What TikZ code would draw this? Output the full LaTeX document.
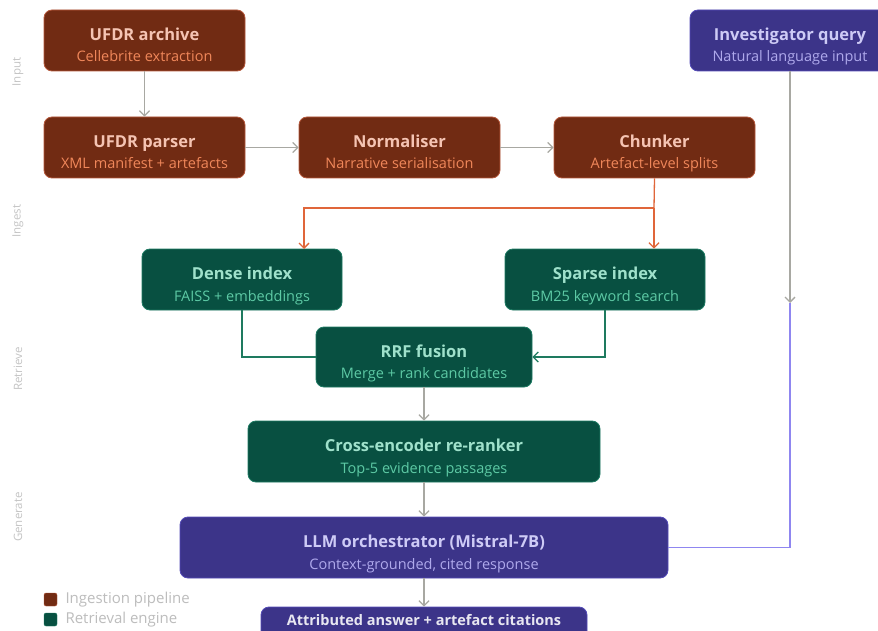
\documentclass[tikz,border=0pt]{standalone}
\usepackage{fontspec}
\setmainfont{Open Sans}
\usetikzlibrary{arrows.meta}
\definecolor{bfill}{HTML}{712B13}
\definecolor{bedge}{HTML}{B5573A}
\definecolor{btitle}{HTML}{F5C4B3}
\definecolor{bsub}{HTML}{F0875A}
\definecolor{gfill}{HTML}{085041}
\definecolor{gedge}{HTML}{1D7A62}
\definecolor{gtitle}{HTML}{9FE1CB}
\definecolor{gsub}{HTML}{5DCAA5}
\definecolor{pfill}{HTML}{3C3489}
\definecolor{pedge}{HTML}{534AB7}
\definecolor{ptitle}{HTML}{CECBF6}
\definecolor{psub}{HTML}{AFA9EC}
\definecolor{gray1}{HTML}{A8A8A2}
\definecolor{orangeline}{HTML}{E0663A}
\definecolor{greenline}{HTML}{1E7A5F}
\definecolor{purpline}{HTML}{8F86F0}
\definecolor{stagec}{HTML}{C4C4C4}
\definecolor{legc}{HTML}{BDBDBD}
\tikzset{
  box/.style={rounded corners=8pt, line width=0.8pt, align=center, inner sep=0pt},
  bbox/.style={box, fill=bfill, draw=bedge, minimum width=201pt, minimum height=61pt},
  gbox/.style={box, fill=gfill, draw=gedge, minimum height=61pt},
  pbox/.style={box, fill=pfill, draw=pedge, minimum height=61pt},
  ttl/.style={anchor=base, inner sep=0pt, font=\fontsize{16.5}{19}\selectfont\bfseries},
  sbt/.style={anchor=base, inner sep=0pt, font=\fontsize{14.5}{17}\selectfont},
  conn/.style={draw=gray1, line width=1.3pt, -{Straight Barb[length=5pt,width=10pt]}},
  oconn/.style={draw=orangeline, line width=1.3pt},
  gconn/.style={draw=greenline, line width=1.3pt},
  stage/.style={rotate=90, text=stagec, font=\fontsize{11.5}{13}\selectfont},
  legtext/.style={text=legc, anchor=west, font=\fontsize{15}{17}\selectfont},
}
% #1 node name, #2 title, #3 subtitle, #4 title colour, #5 sub colour
\newcommand{\boxtexts}[5]{%
  \node[ttl, text=#4] (#1-t) at (#1.center) {#2};
  \node[sbt, text=#5] (#1-s) at ([yshift=-21.5pt]#1.center) {#3};}
\begin{document}
\begin{tikzpicture}[x=1pt,y=-1pt]
\clip (0,0) rectangle (878,631);
\fill[white] (0,0) rectangle (878,631);
% stage labels
\node[stage] (sInput) at (18,72) {Input};
\node[stage] (sIngest) at (18,221) {Ingest};
\node[stage] (sRetrieve) at (18,369) {Retrieve};
\node[stage] (sGenerate) at (18,517) {Generate};
% boxes
\node[bbox] (archive) at (144.5,40.5) {};
\boxtexts{archive}{UFDR archive}{Cellebrite extraction}{btitle}{bsub}
\node[bbox] (parser) at (144.5,147.5) {};
\boxtexts{parser}{UFDR parser}{XML manifest + artefacts}{btitle}{bsub}
\node[bbox] (norm) at (399.5,147.5) {};
\boxtexts{norm}{Normaliser}{Narrative serialisation}{btitle}{bsub}
\node[bbox] (chunk) at (654.5,147.5) {};
\boxtexts{chunk}{Chunker}{Artefact-level splits}{btitle}{bsub}
\node[pbox, minimum width=200pt] (query) at (790,40.5) {};
\boxtexts{query}{Investigator query}{Natural language input}{ptitle}{psub}
\node[gbox, minimum width=200pt] (dense) at (242,279.5) {};
\boxtexts{dense}{Dense index}{FAISS + embeddings}{gtitle}{gsub}
\node[gbox, minimum width=200pt] (sparse) at (605,279.5) {};
\boxtexts{sparse}{Sparse index}{BM25 keyword search}{gtitle}{gsub}
\node[gbox, minimum width=216pt, minimum height=60pt] (rrf) at (424,357) {};
\boxtexts{rrf}{RRF fusion}{Merge + rank candidates}{gtitle}{gsub}
\node[gbox, minimum width=352pt] (cross) at (424,451.5) {};
\boxtexts{cross}{Cross-encoder re-ranker}{Top-5 evidence passages}{gtitle}{gsub}
\node[pbox, minimum width=488pt] (llm) at (424,547.5) {};
\boxtexts{llm}{LLM orchestrator (Mistral-7B)}{Context-grounded, cited response}{ptitle}{psub}
\node[box, fill=pfill, draw=pedge, minimum width=326pt, minimum height=34pt] (answer) at (424,624) {};
\node[anchor=base, inner sep=0pt, text=white!88!pfill, font=\fontsize{14.5}{17}\selectfont\bfseries] (answer-t) at ([yshift=-1pt]answer.center) {Attributed answer + artefact citations};
% connectors
\draw[conn] (archive) -- (parser);
\draw[conn] (parser) -- (norm);
\draw[conn] (norm) -- (chunk);
\coordinate (split) at (654,208);
\draw[oconn] (chunk.south) -- (split);
\draw[oconn, -{Straight Barb[length=5pt,width=10pt]}] (split) -- (304,208) -- (304,249);
\draw[oconn, -{Straight Barb[length=5pt,width=10pt]}] (split) -- (sparse.north -| split);
\draw[gconn] (dense.south) |- (rrf.west);
\draw[gconn, -{Straight Barb[length=5pt,width=10pt]}] (sparse.south) |- (rrf.east);
\draw[conn] (rrf) -- (cross);
\draw[conn] (cross) -- (llm);
\draw[conn] (llm) -- (answer);
\coordinate (qmid) at (790,303);
\draw[conn] (query.south) -- (qmid);
\draw[draw=purpline, line width=1.3pt] (qmid) |- (llm.east);
% legend
\fill[bfill, draw=bedge, rounded corners=2pt] (44,593) rectangle (57,606);
\node[legtext] (l1) at (62,600) {Ingestion pipeline};
\fill[gfill, draw=gedge, rounded corners=2pt] (44,613) rectangle (57,626);
\node[legtext] (l2) at (62,620) {Retrieval engine};
\end{tikzpicture}
\end{document}
